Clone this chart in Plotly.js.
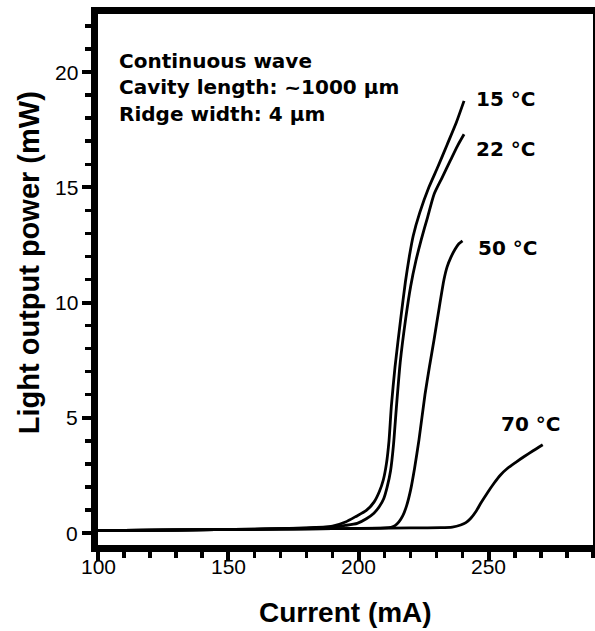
<!DOCTYPE html>
<html>
<head>
<meta charset="utf-8">
<script src="https://cdn.plot.ly/plotly-3.0.1.min.js"></script>
<style>html,body{margin:0;padding:0;background:#fff;}#chart{width:595px;height:631px;}</style>
</head>
<body>
<div id="chart"></div>
<script>
// Current (mA) and light output power (mW)
const current15 = [100, 130, 160, 180, 190, 195, 199, 203, 206, 208, 209.5, 210.7, 211.7, 212.6, 214, 216.2, 218, 219.5, 221, 223.5, 227, 230.5, 234, 237.5, 240.5];
const power15   = [0.10, 0.13, 0.17, 0.22, 0.30, 0.48, 0.72, 0.98, 1.35, 1.8, 2.3, 3.0, 4.0, 5.5, 7.2, 9.3, 10.9, 12.0, 12.9, 13.9, 15.0, 15.9, 16.85, 17.8, 18.75];

const current22 = [100, 130, 160, 180, 190, 195, 199.5, 203, 205.9, 208, 209.7, 211, 212.3, 213.4, 214.5, 216, 218.1, 220, 222, 224, 226.5, 229, 232, 235.4, 238, 240.5];
const power22   = [0.10, 0.13, 0.17, 0.21, 0.26, 0.33, 0.42, 0.62, 0.86, 1.15, 1.5, 2.0, 2.7, 3.8, 5.4, 7.4, 9.3, 10.7, 11.8, 12.7, 13.7, 14.7, 15.4, 16.2, 16.8, 17.3];

const current50 = [100, 130, 160, 190, 210, 212.5, 214, 215.5, 217, 218.5, 220, 221.5, 223.2, 225.5, 227.2, 229, 231, 232.8, 234, 235.4, 237, 238.5, 239.9];
const power50   = [0.10, 0.13, 0.16, 0.19, 0.22, 0.25, 0.32, 0.48, 0.75, 1.2, 1.87, 2.8, 4.04, 6.0, 7.2, 8.4, 9.8, 11.0, 11.55, 11.95, 12.3, 12.55, 12.68];

const current70 = [100, 130, 160, 190, 220, 231.5, 236, 239.2, 241.2, 243.1, 245, 246.9, 249.5, 252, 254.5, 257.2, 260.5, 263.6, 267, 270.7];
const power70   = [0.10, 0.13, 0.16, 0.19, 0.22, 0.23, 0.26, 0.35, 0.45, 0.64, 0.92, 1.29, 1.75, 2.16, 2.52, 2.81, 3.08, 3.32, 3.57, 3.83];

const seriesNames = ['15 °C', '22 °C', '50 °C', '70 °C'];
const infoLines = ['Continuous wave', 'Cavity length: ~1000 \u03bcm', 'Ridge width: 4 \u03bcm'];
const xTicks = [100, 150, 200, 250];
const yTicks = [0, 5, 10, 15, 20];
const xTitle = 'Current (mA)';
const yTitle = 'Light output power (mW)';

const xs = [current15, current22, current50, current70];
const ys = [power15, power22, power50, power70];

const traces = xs.map((x, i) => ({
  x: x, y: ys[i], type: 'scatter', mode: 'lines', name: seriesNames[i],
  line: {color: '#000', width: 2.8, shape: 'spline', smoothing: 0.6},
  showlegend: false, hoverinfo: 'skip'
}));

const FONT = 'Liberation Sans, Arial, Helvetica, sans-serif';
const LABELFONT = 'DejaVu Sans, Liberation Sans, sans-serif';

// label anchors (data coords) next to curve ends
const labelX = [244.2, 244.2, 245.0, 253.8];
const labelY = [18.85, 16.65, 12.35, 4.74];

const annotations = seriesNames.map((t, i) => ({
  x: labelX[i], y: labelY[i], xref: 'x', yref: 'y', text: '<b>' + t + '</b>',
  showarrow: false, xanchor: 'left', yanchor: 'middle',
  font: {family: LABELFONT, size: 20, color: '#000'}
}));
const infoY = [20.48, 19.35, 18.17];
infoLines.forEach((t, i) => annotations.push({
  x: 107.3, y: infoY[i], xref: 'x', yref: 'y', text: '<b>' + t + '</b>',
  showarrow: false, xanchor: 'left', yanchor: 'middle',
  font: {family: LABELFONT, size: 20, color: '#000'}
}));
// tick labels, placed at the axis values
const tickFont = {family: FONT, size: 21, color: '#000'};
xTicks.forEach(v => annotations.push({
  x: v, y: -0.0414, xref: 'x', yref: 'paper', text: String(v), showarrow: false,
  xanchor: 'center', yanchor: 'middle', font: tickFont
}));
yTicks.forEach(v => annotations.push({
  x: -0.0364, y: v, xref: 'paper', yref: 'y', text: String(v), showarrow: false,
  xanchor: 'right', yanchor: 'middle', font: tickFont
}));
// axis titles
annotations.push({
  x: 0.5, y: -0.127, xref: 'paper', yref: 'paper', text: '<b>' + xTitle + '</b>',
  showarrow: false, xanchor: 'center', yanchor: 'middle',
  font: {family: FONT, size: 28, color: '#000'}
});
annotations.push({
  x: -0.139, y: 0.531, xref: 'paper', yref: 'paper', text: '<b>' + yTitle + '</b>',
  textangle: -90, showarrow: false, xanchor: 'center', yanchor: 'middle',
  font: {family: FONT, size: 29, color: '#000'}
});

const layout = {
  width: 595, height: 631,
  margin: {l: 98, r: 2, t: 14, b: 86, pad: 0},
  paper_bgcolor: '#fff', plot_bgcolor: '#fff',
  font: {family: FONT, color: '#000'},
  xaxis: {
    showgrid: false, zeroline: false, showline: true, linecolor: '#000', linewidth: 7,
    mirror: true, ticks: 'outside', tickcolor: '#000', tickwidth: 4, ticklen: 9,
    showticklabels: false,
    range: [100, 290], tickvals: xTicks,
    minor: {dtick: 10, tick0: 100, ticks: 'outside', ticklen: 6, tickwidth: 3.5, tickcolor: '#000'}
  },
  yaxis: {
    showgrid: false, zeroline: false, showline: true, linecolor: '#000', linewidth: 7,
    mirror: true, ticks: 'outside', tickcolor: '#000', tickwidth: 4, ticklen: 9,
    showticklabels: false,
    range: [-0.52, 22.52], tickvals: yTicks,
    minor: {dtick: 1, tick0: 0, ticks: 'outside', ticklen: 6, tickwidth: 3.5, tickcolor: '#000'}
  },
  annotations: annotations
};

Plotly.newPlot('chart', traces, layout, {staticPlot: true, displayModeBar: false});
</script>
</body>
</html>
